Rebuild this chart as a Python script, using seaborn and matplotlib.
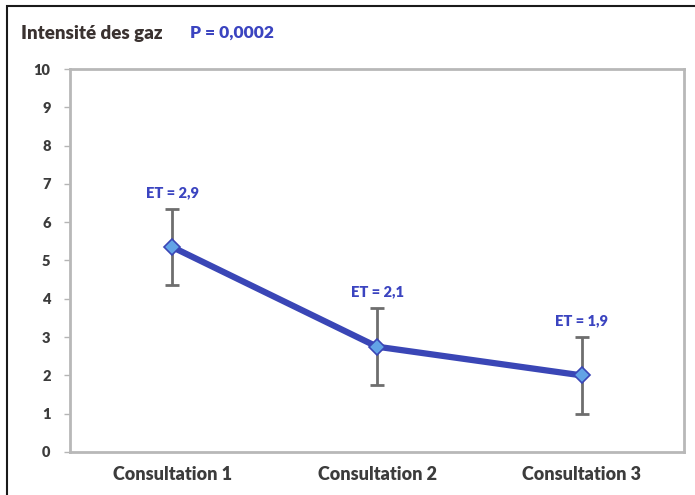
import matplotlib
matplotlib.use("Agg")
import matplotlib.pyplot as plt
import seaborn as sns
import pandas as pd
from matplotlib.patches import Rectangle

# Data
consultations = ["Consultation 1", "Consultation 2", "Consultation 3"]
moyennes = [5.35, 2.75, 2.0]
barres_erreur = [1.0, 1.0, 1.0]
ecarts_types = ["ET = 2,9", "ET = 2,1", "ET = 1,9"]
y_ticks = [0, 1, 2, 3, 4, 5, 6, 7, 8, 9, 10]

sns.set_theme(style="white")
plt.rcParams["font.family"] = ["Lato", "DejaVu Sans"]

df = pd.DataFrame({"consultation": consultations, "intensite": moyennes})

fig = plt.figure(figsize=(6.95, 4.95), dpi=100)
ax = fig.add_axes([0.1007, 0.0869, 0.8835, 0.7737])

line_blue = "#3a46b6"
text_blue = "#3b44c0"
grey = "#6e6e6e"

# error bars behind the line
ax.errorbar(range(len(consultations)), moyennes, yerr=barres_erreur,
            fmt="none", ecolor=grey, elinewidth=2, capsize=5, capthick=2, zorder=1)

sns.pointplot(data=df, x="consultation", y="intensite", ax=ax,
              color=line_blue, markers="D", linestyles="-", errorbar=None,
              linewidth=4.5, markersize=8, zorder=3)

# diamond markers: light blue face with blue edge
for ln in ax.lines:
    if ln.get_marker() == "D":
        ln.set_markerfacecolor("#62a3e6")
        ln.set_markeredgecolor(line_blue)
        ln.set_markeredgewidth(1.2)
        ln.set_zorder(3)

# standard deviation labels above the bars
for i, (m, e, lab) in enumerate(zip(moyennes, barres_erreur, ecarts_types)):
    ax.annotate(lab, (i, m + e), xytext=(0, 7), textcoords="offset points",
                ha="center", va="bottom", color=text_blue,
                fontsize=10.5, fontweight="heavy")

ax.set_xlim(-0.5, 2.5)
ax.set_ylim(0, 10)
ax.set_yticks(y_ticks)
ax.set_xlabel("")
ax.set_ylabel("")
ax.tick_params(axis="y", left=True, length=4, width=1, color="#b5b5b5",
               labelsize=10.5, labelcolor="#3c3c3c", pad=10)
ax.tick_params(axis="x", bottom=False, labelsize=13, labelcolor="#3c3c3c", pad=4)
for lab in ax.get_yticklabels() + ax.get_xticklabels():
    lab.set_fontweight("heavy")
for sp in ax.spines.values():
    sp.set_visible(True)
    sp.set_color("#b8b8b8")
    sp.set_linewidth(2)

# title and p-value
fig.text(21 / 695, 1 - 33 / 495, "Intensité des gaz", fontsize=13.5, fontweight="heavy",
         color="#3a3230", va="center", ha="left")
fig.text(190 / 695, 1 - 33 / 495, "P = 0,0002", fontsize=12.5, fontweight="heavy",
         color=text_blue, va="center", ha="left")

# outer frame
fig.patches.append(Rectangle((7 / 695, -0.05), 1.0, 1 - 6 / 495 + 0.05,
                             transform=fig.transFigure, fill=False,
                             edgecolor="#1a1a1a", linewidth=1.5))

fig.savefig("out.png", dpi=100)
